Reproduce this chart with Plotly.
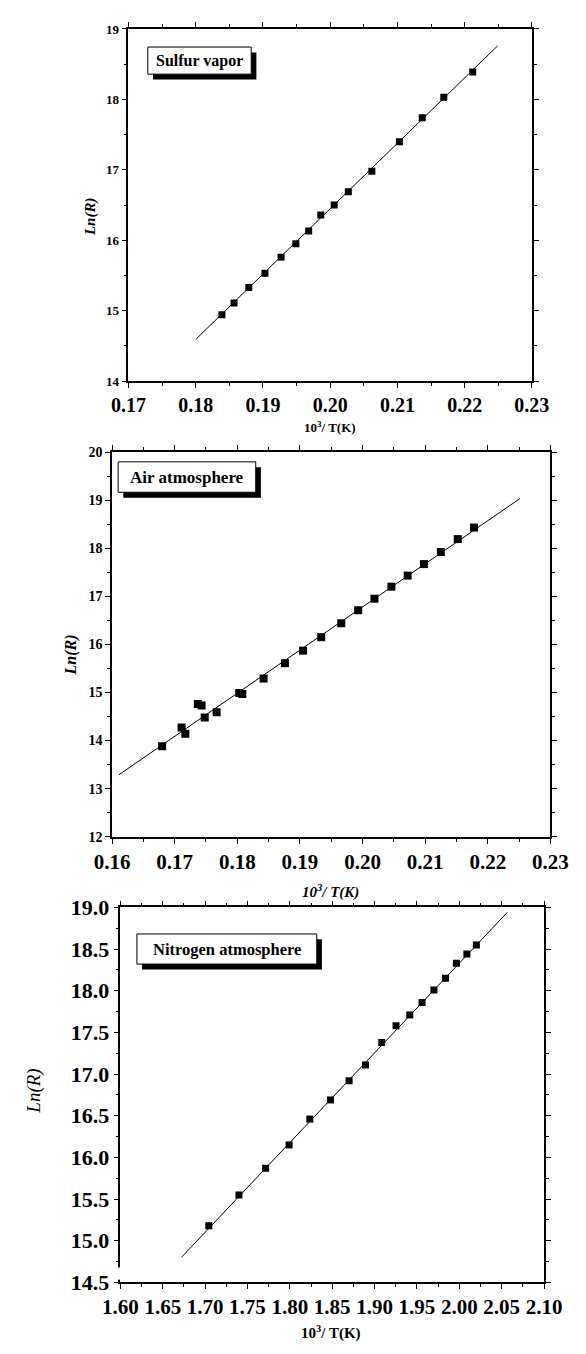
import plotly.graph_objects as go

W, H = 586, 1354

# ---------------- data ----------------
# Panel 1: Sulfur vapor
sulfur_x = [0.1839, 0.1857, 0.1879, 0.1903, 0.1927, 0.1949, 0.1968, 0.1986, 0.2006,
            0.2027, 0.2062, 0.2103, 0.2137, 0.2169, 0.2212]
sulfur_y = [14.94, 15.11, 15.33, 15.53, 15.76, 15.95, 16.13, 16.36, 16.50,
            16.69, 16.98, 17.40, 17.74, 18.03, 18.39]
sulfur_fit_x = [0.1801, 0.2249]
sulfur_fit_y = [14.60, 18.76]

# Panel 2: Air atmosphere
air_x = [0.1680, 0.1711, 0.1717, 0.1737, 0.1743, 0.1748, 0.1767, 0.1803, 0.1808,
         0.1842, 0.1876, 0.1905, 0.1934, 0.1966, 0.1993, 0.2019, 0.2046, 0.2072,
         0.2098, 0.2125, 0.2152, 0.2178]
air_y = [13.88, 14.27, 14.14, 14.76, 14.73, 14.48, 14.59, 14.99, 14.97,
         15.29, 15.61, 15.87, 16.15, 16.44, 16.71, 16.95, 17.20, 17.43,
         17.67, 17.92, 18.19, 18.43]
air_fit_x = [0.1611, 0.2251]
air_fit_y = [13.29, 19.03]

# Panel 3: Nitrogen atmosphere
n2_x = [1.7043, 1.7399, 1.7714, 1.7991, 1.8235, 1.8479, 1.8699, 1.8893, 1.9084,
        1.9253, 1.9415, 1.9560, 1.9700, 1.9837, 1.9965, 2.0089, 2.0201]
n2_y = [15.18, 15.55, 15.87, 16.15, 16.46, 16.69, 16.92, 17.11, 17.38,
        17.58, 17.71, 17.86, 18.01, 18.15, 18.33, 18.44, 18.55]
n2_fit_x = [1.672, 2.0565]
n2_fit_y = [14.80, 18.94]

panel_labels = ["Sulfur vapor", "Air atmosphere", "Nitrogen atmosphere"]
x_title = "10<sup>3</sup>/ T(K)"
y_title = "Ln(R)"


def pxx(x):
    return x / W


def pyy(y):
    return 1 - y / H


FONT = "Liberation Serif"

fig = go.Figure()

series = [
    (sulfur_x, sulfur_y, sulfur_fit_x, sulfur_fit_y, "x", "y", 7),
    (air_x, air_y, air_fit_x, air_fit_y, "x2", "y2", 8),
    (n2_x, n2_y, n2_fit_x, n2_fit_y, "x3", "y3", 7),
]
for xs, ys, fx, fy, xa, ya, ms in series:
    fig.add_trace(go.Scatter(x=fx, y=fy, mode="lines", xaxis=xa, yaxis=ya,
                             line=dict(color="black", width=1), showlegend=False,
                             hoverinfo="skip"))
    fig.add_trace(go.Scatter(x=xs, y=ys, mode="markers", xaxis=xa, yaxis=ya,
                             marker=dict(symbol="square", size=ms, color="black"),
                             showlegend=False))

# axis geometry in pixels: (left, right, top, bottom)
geo = [
    (117.7, 547.5, 17.3, 376.0),
    (100.2, 567.3, 448.3, 840.3),
    (109.1, 560.5, 912.3, 1294.3),
]


def axis_common():
    return dict(showline=True, linecolor="black", linewidth=1.5, mirror="ticks",
                ticks="outside", tickcolor="black", tickwidth=1.2, ticklen=5,
                showgrid=False, zeroline=False)


fig.update_layout(
    xaxis=dict(**axis_common(), domain=[pxx(geo[0][0]), pxx(geo[0][1])], anchor="y",
               range=[0.17, 0.23], dtick=0.01, tick0=0.17, tickformat=".2f",
               minor=dict(dtick=0.005, ticklen=3, ticks="outside", tickcolor="black"),
               tickfont=dict(family=FONT, size=20, color="black", weight="bold")),
    yaxis=dict(**axis_common(), domain=[pyy(geo[0][3]), pyy(geo[0][2])], anchor="x",
               range=[14, 19], dtick=1, tick0=14,
               minor=dict(dtick=0.5, ticklen=3, ticks="outside", tickcolor="black"),
               tickfont=dict(family=FONT, size=13, color="black", weight="bold")),
    xaxis2=dict(**axis_common(), domain=[pxx(geo[1][0]), pxx(geo[1][1])], anchor="y2",
                range=[0.16, 0.23], dtick=0.01, tick0=0.16, tickformat=".2f",
                minor=dict(dtick=0.005, ticklen=3, ticks="outside", tickcolor="black"),
                tickfont=dict(family=FONT, size=21, color="black", weight="bold")),
    yaxis2=dict(**axis_common(), domain=[pyy(geo[1][3]), pyy(geo[1][2])], anchor="x2",
                range=[12, 20], dtick=1, tick0=12,
                minor=dict(dtick=0.5, ticklen=3, ticks="outside", tickcolor="black"),
                tickfont=dict(family=FONT, size=14, color="black", weight="bold")),
    xaxis3=dict(**axis_common(), domain=[pxx(geo[2][0]), pxx(geo[2][1])], anchor="y3",
                range=[1.6, 2.1], dtick=0.05, tick0=1.6, tickformat=".2f",
                minor=dict(dtick=0.025, ticklen=3, ticks="outside", tickcolor="black"),
                tickfont=dict(family=FONT, size=21, color="black", weight="bold")),
    yaxis3=dict(**axis_common(), domain=[pyy(geo[2][3]), pyy(geo[2][2])], anchor="x3",
                range=[14.5, 19.0], dtick=0.5, tick0=14.5, tickformat=".1f",
                minor=dict(dtick=0.25, ticklen=3, ticks="outside", tickcolor="black"),
                tickfont=dict(family=FONT, size=22, color="black", weight="bold")),
)

shapes = []
annotations = []

# labelled boxes with drop shadow: (left, top, right, bottom, shadow offset, font size)
boxes = [
    (138.3, 35.7, 248.5, 63.3, 5.5, 16),
    (106.7, 458.3, 253.3, 489.3, 5.5, 17),
    (126.7, 939.3, 318.3, 970.0, 5.5, 16.5),
]
for (l, t, r, b, off, fs), label in zip(boxes, panel_labels):
    shapes.append(dict(type="rect", xref="paper", yref="paper",
                       x0=pxx(l + off), x1=pxx(r + off), y0=pyy(b + off), y1=pyy(t + off),
                       fillcolor="black", line=dict(width=0), layer="above"))
    shapes.append(dict(type="rect", xref="paper", yref="paper",
                       x0=pxx(l), x1=pxx(r), y0=pyy(b), y1=pyy(t),
                       fillcolor="white", line=dict(color="black", width=1), layer="above"))
    annotations.append(dict(text="<b>%s</b>" % label, xref="paper", yref="paper",
                            x=pxx((l + r) / 2), y=pyy((t + b) / 2), showarrow=False,
                            xanchor="center", yanchor="middle",
                            font=dict(family=FONT, size=fs, color="black")))

# small break in the third panel's left axis behind the "14.5" label
shapes.append(dict(type="rect", xref="paper", yref="paper",
                   x0=pxx(106.5), x1=pxx(111.5), y0=pyy(1291.5), y1=pyy(1279),
                   fillcolor="white", line=dict(width=0), layer="above"))

# axis titles
titles = [
    ("<b>%s</b>" % x_title, 332.6, 423, 0, 13),
    ("<b><i>%s</i></b>" % y_title, 76.6, 208, -90, 15),
    ("<b><i>%s</i></b>" % x_title, 333, 896, 0, 15),
    ("<b><i>%s</i></b>" % y_title, 56, 655, -90, 16),
    ("<b>%s</b>" % x_title, 333, 1345, 0, 15),
    ("<i>%s</i>" % y_title, 17, 1099, -90, 19),
]
for txt, x, y, ang, fs in titles:
    annotations.append(dict(text=txt, xref="paper", yref="paper", x=pxx(x), y=pyy(y),
                            showarrow=False, xanchor="center", yanchor="middle",
                            textangle=ang, font=dict(family=FONT, size=fs, color="black")))

fig.update_layout(
    width=W, height=H, margin=dict(l=0, r=0, t=0, b=0),
    paper_bgcolor="white", plot_bgcolor="white",
    shapes=shapes, annotations=annotations, showlegend=False,
)

fig.write_html("out.html")
